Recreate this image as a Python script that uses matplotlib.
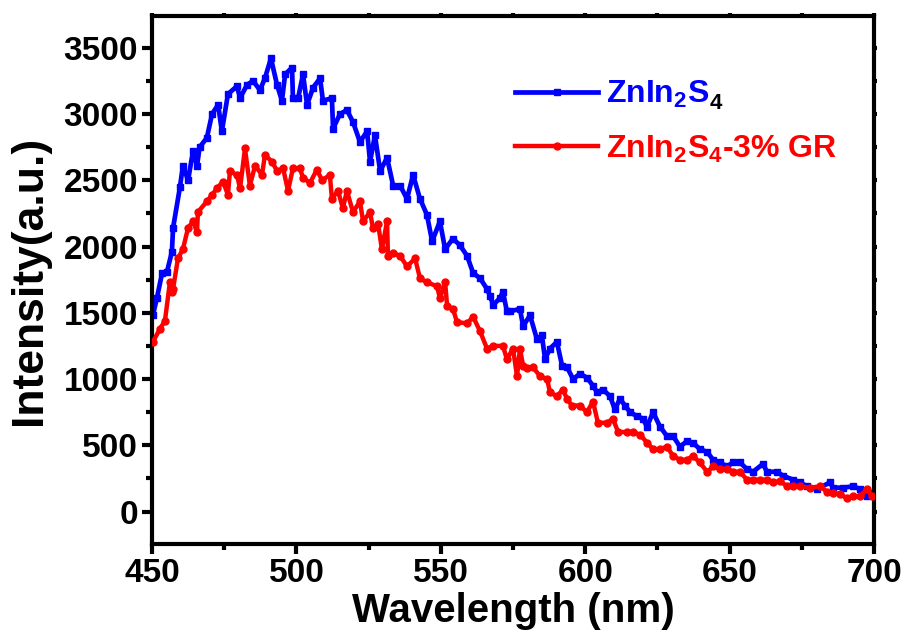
import matplotlib
matplotlib.use("Agg")
import matplotlib.pyplot as plt
from matplotlib.ticker import MultipleLocator

plt.rcParams['font.family'] = ['Liberation Sans', 'DejaVu Sans']
plt.rcParams['font.weight'] = 'bold'
plt.rcParams['mathtext.fontset'] = 'custom'
plt.rcParams['mathtext.rm'] = 'Liberation Sans:bold'
plt.rcParams['mathtext.bf'] = 'Liberation Sans:bold'
plt.rcParams['mathtext.default'] = 'bf'

# ZnIn2S4 (blue)
wl_blue = [450.3, 451.7, 453.5, 455.2, 456.9, 457.3, 459.7, 460.7, 462.5, 464.2, 465.6, 466.5,
           469.0, 470.8, 472.9, 474.2, 476.3, 479.4, 480.5, 482.9, 485.0, 487.4, 489.1, 491.2,
           493.3, 495.0, 496.1, 498.5, 498.8, 500.6, 502.3, 503.7, 505.8, 508.2, 509.2, 512.3,
           512.7, 515.1, 517.5, 519.6, 522.0, 524.5, 525.5, 527.2, 529.0, 531.4, 533.5, 535.9,
           538.3, 540.4, 542.8, 545.2, 547.0, 549.7, 551.5, 554.2, 556.6, 559.1, 561.2, 563.6,
           566.0, 567.0, 568.1, 570.5, 571.5, 572.9, 574.0, 577.4, 578.5, 580.9, 583.3, 585.0,
           586.1, 587.8, 590.2, 592.0, 593.7, 595.8, 598.2, 600.6, 602.7, 604.1, 606.2, 608.6,
           610.3, 612.0, 613.8, 615.5, 617.9, 620.0, 621.4, 623.5, 625.9, 628.3, 630.4, 632.8,
           635.2, 637.3, 639.7, 642.2, 644.3, 646.7, 649.1, 651.2, 653.6, 656.0, 658.1, 661.6,
           662.9, 666.4, 668.5, 672.0, 674.4, 676.8, 680.3, 684.8, 685.8, 689.3, 692.7, 695.2,
           697.6, 699.3]
int_blue = [1480, 1610, 1800, 1810, 1960, 2140, 2450, 2610, 2500, 2720, 2610, 2750,
            2820, 3000, 3070, 2870, 3150, 3210, 3120, 3220, 3250, 3180, 3270, 3420,
            3220, 3100, 3300, 3350, 3120, 3120, 3300, 3070, 3200, 3270, 3100, 3120,
            2890, 3000, 3030, 2940, 2790, 2870, 2640, 2840, 2570, 2670, 2460, 2460,
            2360, 2540, 2360, 2240, 2040, 2190, 1980, 2060, 2010, 1930, 1800, 1760,
            1680, 1630, 1560, 1610, 1660, 1510, 1510, 1530, 1400, 1480, 1300, 1330,
            1150, 1230, 1280, 1100, 1090, 1000, 1040, 1010, 950, 900, 920, 870,
            770, 850, 800, 750, 720, 700, 640, 750, 640, 570, 570, 490,
            530, 520, 470, 450, 390, 370, 340, 370, 370, 320, 300, 360,
            300, 300, 270, 240, 220, 190, 170, 220, 180, 180, 190, 170,
            115, 140]

# ZnIn2S4-3% GR (red)
wl_red = [450.3, 452.8, 454.5, 456.2, 456.9, 457.3, 459.0, 460.7, 462.5, 464.2, 465.6, 465.9,
          469.0, 470.8, 472.5, 474.6, 476.3, 477.0, 479.4, 480.5, 482.2, 483.9, 485.7, 488.1,
          489.1, 491.6, 493.3, 495.4, 497.1, 498.8, 501.2, 502.3, 504.7, 507.1, 508.9, 511.6,
          512.3, 514.4, 516.1, 517.5, 519.6, 522.0, 523.1, 525.5, 526.5, 528.3, 529.6, 531.4,
          531.7, 533.5, 535.9, 538.3, 541.1, 542.8, 545.2, 548.7, 549.7, 551.5, 552.2, 554.2,
          555.6, 559.1, 561.2, 563.6, 566.0, 568.1, 571.5, 572.9, 575.0, 576.4, 577.4, 578.5,
          579.8, 581.9, 584.4, 586.8, 587.8, 590.2, 592.3, 593.7, 595.4, 598.2, 600.6, 602.7,
          604.4, 607.6, 609.6, 611.4, 614.5, 616.6, 619.0, 621.4, 623.5, 625.9, 628.3, 630.4,
          632.8, 635.2, 637.3, 639.7, 642.2, 644.3, 646.7, 649.1, 651.2, 653.6, 656.0, 658.1,
          660.5, 662.9, 665.0, 667.5, 669.9, 672.0, 674.4, 677.8, 681.3, 683.7, 685.8, 688.2,
          690.7, 692.7, 695.2, 697.6, 699.3]
int_red = [1280, 1380, 1440, 1730, 1660, 1680, 1910, 1980, 2140, 2190, 2110, 2260,
           2340, 2390, 2440, 2490, 2390, 2570, 2540, 2440, 2740, 2460, 2610, 2540,
           2690, 2640, 2570, 2590, 2420, 2590, 2590, 2520, 2480, 2580, 2500, 2540,
           2360, 2420, 2290, 2420, 2260, 2340, 2190, 2260, 2140, 2170, 1980, 2190,
           1930, 1950, 1930, 1850, 1910, 1760, 1730, 1700, 1610, 1730, 1550, 1530,
           1430, 1420, 1470, 1360, 1230, 1250, 1250, 1150, 1230, 1020, 1230, 1100,
           1080, 1090, 1020, 1000, 900, 870, 920, 850, 800, 800, 750, 830,
           670, 670, 700, 600, 600, 600, 580, 520, 470, 470, 490, 420,
           390, 390, 420, 370, 300, 340, 320, 320, 300, 300, 240, 240,
           240, 240, 220, 230, 190, 190, 190, 180, 190, 150, 140, 130,
           100, 115, 115, 170, 115]

x_ticks = [450, 500, 550, 600, 650, 700]
y_ticks = [0, 500, 1000, 1500, 2000, 2500, 3000, 3500]

W, H = 903, 639
fig = plt.figure(figsize=(W / 100, H / 100), dpi=100)
ax = fig.add_axes([0.1683, 0.1487, 0.7996, 0.8263])

ax.plot(wl_blue, int_blue, color='#0000ff', lw=3.4, marker='s', ms=4, mec='#0000ff',
        label='ZnIn$_2$S', zorder=2)
ax.plot(wl_red, int_red, color='#ff0000', lw=3.2, marker='o', ms=5, mec='#ff0000',
        label='ZnIn$_2$S$_4$-3% GR', zorder=3)

ax.set_xlim(450, 700)
ax.set_ylim(-245, 3740)
ax.set_xticks(x_ticks)
ax.set_yticks(y_ticks)
ax.xaxis.set_minor_locator(MultipleLocator(25))
ax.yaxis.set_minor_locator(MultipleLocator(250))

for s in ax.spines.values():
    s.set_linewidth(3)

ax.tick_params(axis='both', which='major', direction='out', length=7, width=3,
               labelsize=24, pad=3)
ax.tick_params(axis='both', which='minor', direction='out', length=4, width=3)
ax.tick_params(top=True, right=True, which='both')
for lab in ax.get_xticklabels() + ax.get_yticklabels():
    lab.set_fontweight('bold')
for t in ax.xaxis.get_major_ticks() + ax.xaxis.get_minor_ticks():
    t.tick2line.set_markersize(2)
for t in ax.yaxis.get_major_ticks() + ax.yaxis.get_minor_ticks():
    t.tick2line.set_markersize(2)

ax.set_xlabel('Wavelength (nm)', fontsize=29, fontweight='bold', labelpad=2)
ax.set_ylabel('Intensity(a.u.)', fontsize=32, fontweight='bold', labelpad=10)

leg = ax.legend(loc='upper left', bbox_to_anchor=(0.503, 0.88), frameon=False,
                fontsize=23, handlelength=2.6, handletextpad=0.25, labelspacing=0.72,
                borderpad=0, borderaxespad=0)
texts = leg.get_texts()
texts[0].set_color('#0000ff')
texts[1].set_color('#ff0000')
for t in texts:
    t.set_fontweight('bold')

# black subscript "4" after the blue legend label
fig.canvas.draw()
bb = texts[0].get_window_extent()
fig.text(bb.x1 / W, (bb.y0 - 4) / H, '4', fontsize=16, fontweight='bold',
         color='black', ha='left', va='bottom')

fig.savefig('out.png', dpi=100)
